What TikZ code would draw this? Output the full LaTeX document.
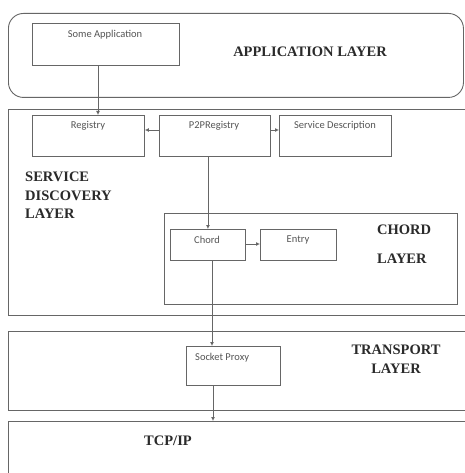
\documentclass[tikz,border=0pt]{standalone}
\usepackage{fontspec}
\setmainfont{Liberation Serif}
\newfontfamily\boxfont{Carlito}
\usetikzlibrary{arrows.meta}
\definecolor{edgegray}{HTML}{666666}
\definecolor{boxtext}{HTML}{555555}
\definecolor{layertext}{HTML}{2A2A2A}
\tikzset{
  layerbox/.style={draw=edgegray, line width=0.9pt, anchor=north west, inner sep=0pt},
  compbox/.style={draw=edgegray, line width=0.9pt, anchor=north west, inner sep=0pt, fill=white},
  boxlbl/.style={font=\boxfont\fontsize{10.5}{12}\selectfont, text=boxtext, inner sep=0pt},
  layerlbl/.style={font=\fontsize{14.5}{18.5}\selectfont\bfseries, text=layertext, inner sep=0pt, align=left},
  arr/.style={draw=edgegray, line width=0.9pt, -{Latex[length=4pt,width=4pt]}}
}
\begin{document}
\begin{tikzpicture}[x=1pt,y=-1pt]
\useasboundingbox (0,0) rectangle (464,473);
\fill[white] (0,0) rectangle (464,473);

% layer containers
\node[layerbox, rounded corners=15pt, minimum width=455pt, minimum height=84pt] (applayer) at (8,13) {};
\node[layerbox, minimum width=470pt, minimum height=206pt] (sdlayer) at (8,109) {};
\node[layerbox, minimum width=293pt, minimum height=91pt] (chordlayer) at (164,213) {};
\node[layerbox, minimum width=470pt, minimum height=79pt] (translayer) at (8,331) {};
\node[layerbox, minimum width=470pt, minimum height=70pt] (tcpip) at (8,421) {};

% components
\node[compbox, minimum width=147pt, minimum height=42pt] (someapp) at (32,23) {};
\node[compbox, minimum width=112pt, minimum height=41pt] (registry) at (32,115) {};
\node[compbox, minimum width=111pt, minimum height=41pt] (p2p) at (159,115) {};
\node[compbox, minimum width=112pt, minimum height=41pt] (servdesc) at (279,115) {};
\node[compbox, minimum width=75pt, minimum height=31pt] (chord) at (170,229) {};
\node[compbox, minimum width=76pt, minimum height=31pt] (entry) at (260,229) {};
\node[compbox, minimum width=94pt, minimum height=39pt] (socket) at (186,346) {};

% component labels
\node[boxlbl] (someapptxt) at (105,35) {Some Application};
\node[boxlbl] (registrytxt) at (88,126) {Registry};
\node[boxlbl] (p2ptxt) at (214,126) {P2PRegistry};
\node[boxlbl] (servdesctxt) at (335,126) {Service Description};
\node[boxlbl] (chordtxt) at (207,240) {Chord};
\node[boxlbl] (entrytxt) at (298,240) {Entry};
\node[boxlbl, anchor=west] (sockettxt) at (195,358) {Socket Proxy};

% layer labels
\node[layerlbl] (applbl) at (310,52) {APPLICATION LAYER};
\node[layerlbl, anchor=north west] (sdlbl) at (25,172) {SERVICE\\DISCOVERY\\LAYER};
\node[layerlbl, anchor=west] (chordlbl1) at (377,230) {CHORD};
\node[layerlbl, anchor=west] (chordlbl2) at (377,259) {LAYER};
\node[layerlbl, align=center, anchor=north] (translbl) at (396,345) {TRANSPORT\\LAYER};
\node[layerlbl] (tcplbl) at (168,441) {TCP/IP};

% connectors
\draw[arr] (someapp.south -| 98,0) -- (registry.north -| 98,0);
\draw[arr] (p2p.west |- 0,130) -- (registry.east |- 0,130);
\draw[arr] (p2p.east |- 0,130) -- (servdesc.west |- 0,130);
\draw[arr] (p2p.south -| chord.north) -- (chord.north);
\draw[arr] (chord.east |- 0,244) -- (entry.west |- 0,244);
\draw[arr] (chord.south -| 212,0) -- (socket.north -| 212,0);
\draw[arr] (socket.south -| 213,0) -- (tcpip.north -| 213,0);
\end{tikzpicture}
\end{document}
